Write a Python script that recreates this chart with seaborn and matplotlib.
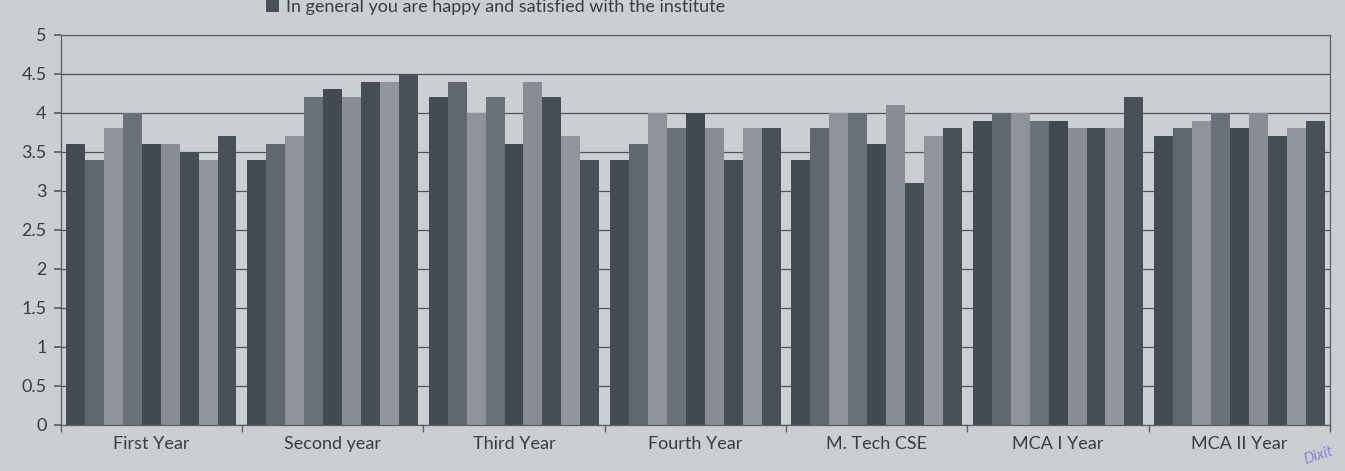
import numpy as np
import pandas as pd
import matplotlib.pyplot as plt
import seaborn as sns
from matplotlib.patches import Patch
from matplotlib.ticker import FixedLocator

# categories on the x axis
categories = ["First Year", "Second year", "Third Year", "Fourth Year",
              "M. Tech CSE", "MCA I Year", "MCA II Year"]

# nine questions per category (only the last legend entry is readable)
items = ["Q1", "Q2", "Q3", "Q4", "Q5", "Q6", "Q7", "Q8",
         "In general you are happy and satisfied with the institute"]

first_year = [3.6, 3.4, 3.8, 4.0, 3.6, 3.6, 3.5, 3.4, 3.7]
second_year = [3.4, 3.6, 3.7, 4.2, 4.3, 4.2, 4.4, 4.4, 4.5]
third_year = [4.2, 4.4, 4.0, 4.2, 3.6, 4.4, 4.2, 3.7, 3.4]
fourth_year = [3.4, 3.6, 4.0, 3.8, 4.0, 3.8, 3.4, 3.8, 3.8]
mtech_cse = [3.4, 3.8, 4.0, 4.0, 3.6, 4.1, 3.1, 3.7, 3.8]
mca_1 = [3.9, 4.0, 4.0, 3.9, 3.9, 3.8, 3.8, 3.8, 4.2]
mca_2 = [3.7, 3.8, 3.9, 4.0, 3.8, 4.0, 3.7, 3.8, 3.9]

yticks = [0, 0.5, 1, 1.5, 2, 2.5, 3, 3.5, 4, 4.5, 5]

all_values = [first_year, second_year, third_year, fourth_year,
              mtech_cse, mca_1, mca_2]
rows = []
for cat, vals in zip(categories, all_values):
    for item, v in zip(items, vals):
        rows.append({"group": cat, "item": item, "score": v})
df = pd.DataFrame(rows)

bar_colors = ["#454b53", "#61676e", "#8d9399", "#6b7178", "#434951",
              "#878d93", "#484e56", "#90969c", "#4a5058"]
bg = "#cbcfd3"
ink = "#383d43"

sns.set_theme(style="white")
plt.rcParams["font.family"] = ["Lato", "DejaVu Sans"]

fig, ax = plt.subplots(figsize=(13.45, 4.71), dpi=100)
fig.patch.set_facecolor(bg)
ax.set_facecolor(bg)
fig.subplots_adjust(left=0.045, right=0.989, bottom=0.098, top=0.926)

sns.barplot(data=df, x="group", y="score", hue="item", palette=bar_colors,
            width=0.94, gap=0, saturation=1, legend=False, ax=ax,
            linewidth=0, edgecolor="none")

ax.set_ylim(0, 5)
ax.set_yticks(yticks)
ax.set_yticklabels([f"{t:g}" for t in yticks])
ax.yaxis.grid(True, color="#4f545a", linewidth=0.9)
ax.set_axisbelow(True)
ax.set_xlim(-0.5, len(categories) - 0.5)
ax.set_xlabel("")
ax.set_ylabel("")

for side in ["left", "bottom", "right", "top"]:
    ax.spines[side].set_visible(True)
    ax.spines[side].set_color("#5a5f65")
    ax.spines[side].set_linewidth(0.9)

ax.tick_params(axis="y", which="major", direction="out", length=5,
               color="#5a5f65", labelsize=13, labelcolor=ink, left=True, pad=5)
ax.tick_params(axis="x", which="major", length=0, labelsize=13,
               labelcolor=ink, pad=8)
ax.xaxis.set_minor_locator(FixedLocator(np.arange(-0.5, len(categories), 1.0)))
ax.tick_params(axis="x", which="minor", direction="out", length=5,
               color="#5a5f65", bottom=True)

handle = Patch(facecolor=bar_colors[-1], edgecolor="none")
fig.legend([handle], [items[-1]], loc="center left",
           bbox_to_anchor=(0.186, 0.985), frameon=False, fontsize=13,
           handlelength=0.7, handleheight=0.7, handletextpad=0.4,
           labelcolor=ink)

fig.text(0.968, 0.032, "Dixit", color="#8a80d8", fontsize=11,
         rotation=18, style="italic", ha="left", va="center")

fig.savefig("out.png", dpi=100, facecolor=bg)
